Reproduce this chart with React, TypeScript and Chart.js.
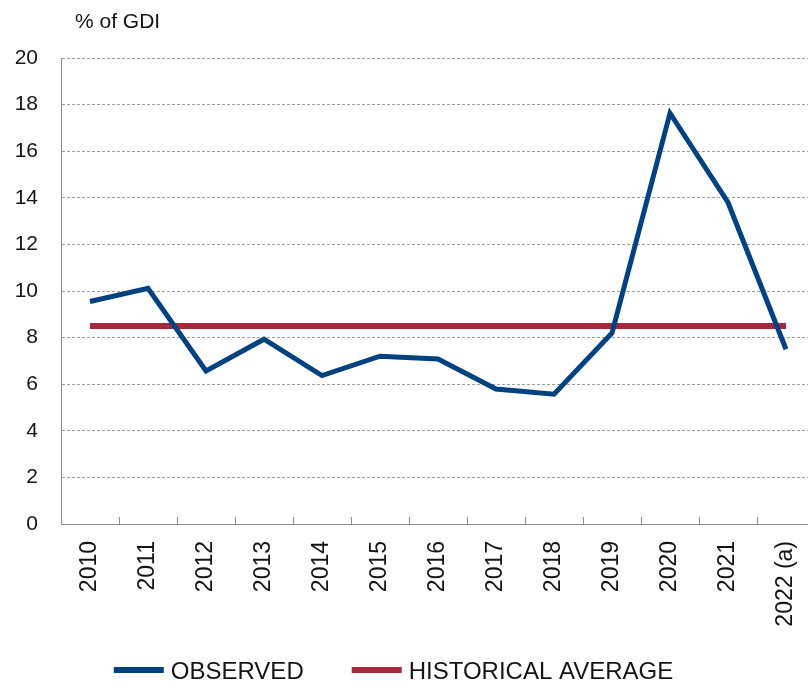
import React, { useEffect, useRef } from 'react';
import { Chart, registerables } from 'chart.js';

Chart.register(...registerables);

// ---- data ----
const years = ['2010', '2011', '2012', '2013', '2014', '2015', '2016', '2017', '2018', '2019', '2020', '2021', '2022 (a)'];
const observed = [9.55, 10.12, 6.57, 7.93, 6.37, 7.2, 7.08, 5.79, 5.57, 8.2, 17.63, 13.8, 7.5];
const historicalAverage = [8.5, 8.5, 8.5, 8.5, 8.5, 8.5, 8.5, 8.5, 8.5, 8.5, 8.5, 8.5, 8.5];
const seriesNames = ['OBSERVED', 'HISTORICAL AVERAGE'];
const yMin = 0;
const yMax = 20;
const yStep = 2;
const unitLabel = '% of GDI';

// ---- styling ----
const BLUE = '#00417F';
const RED = '#A5293A';
const AXIS = '#8c8c8c';
const GRID = '#9e9e9e';
const TEXT = '#141414';
const FONT = '"Liberation Sans", Arial, Helvetica, sans-serif';
const CANVAS_W = 815;
const CANVAS_H = 683;

// Short tick marks at category boundaries, pointing up into the plot
const xTickMarks = {
  id: 'xTickMarks',
  afterDatasetsDraw(chart: any) {
    const { ctx, chartArea } = chart;
    const x = chart.scales.x;
    const n = chart.data.labels.length;
    ctx.save();
    ctx.strokeStyle = AXIS;
    ctx.lineWidth = 1;
    ctx.beginPath();
    for (let i = 1; i < n; i++) {
      const px = Math.round(x.getPixelForValue(i - 0.5)) + 0.5;
      ctx.moveTo(px, chartArea.bottom);
      ctx.lineTo(px, chartArea.bottom - 7);
    }
    ctx.stroke();
    ctx.restore();
  },
};

// Unit caption above the value axis
const unitCaption = {
  id: 'unitCaption',
  afterDraw(chart: any) {
    const { ctx, chartArea } = chart;
    ctx.save();
    ctx.fillStyle = TEXT;
    ctx.font = `21px ${FONT}`;
    ctx.textBaseline = 'alphabetic';
    ctx.textAlign = 'left';
    ctx.fillText(unitLabel, chartArea.left + 14, 28);
    ctx.restore();
  },
};

// Legend row along the bottom edge: line sample followed by the series name
const bottomLegend = {
  id: 'bottomLegend',
  afterDraw(chart: any) {
    const { ctx } = chart;
    ctx.save();
    ctx.font = `24px ${FONT}`;
    const sample = 50;
    const gap = 7;
    const spacing = 48;
    const items = chart.data.datasets.map((ds: any) => ({
      text: ds.label as string,
      color: ds.borderColor as string,
      w: ctx.measureText(ds.label).width,
    }));
    const total =
      items.reduce((s: number, it: any) => s + sample + gap + it.w, 0) + spacing * (items.length - 1);
    let x = chart.width / 2 - 14 - total / 2;
    const yMid = chart.height - 13;
    const baseline = chart.height - 4;
    for (const it of items) {
      ctx.fillStyle = it.color;
      ctx.fillRect(x, yMid - 3, sample, 6);
      x += sample + gap;
      ctx.fillStyle = TEXT;
      ctx.textBaseline = 'alphabetic';
      ctx.textAlign = 'left';
      ctx.fillText(it.text, x, baseline);
      x += it.w + spacing;
    }
    ctx.restore();
  },
};

export default function App() {
  const canvasRef = useRef<HTMLCanvasElement | null>(null);

  useEffect(() => {
    if (!canvasRef.current) return;
    const chart = new Chart(canvasRef.current, {
      type: 'line',
      data: {
        labels: years,
        datasets: [
          {
            label: seriesNames[0],
            data: observed,
            borderColor: BLUE,
            backgroundColor: BLUE,
            borderWidth: 5,
            pointRadius: 0,
            tension: 0,
            borderJoinStyle: 'miter',
            borderCapStyle: 'butt',
          },
          {
            label: seriesNames[1],
            data: historicalAverage,
            borderColor: RED,
            backgroundColor: RED,
            borderWidth: 6,
            pointRadius: 0,
            tension: 0,
            borderCapStyle: 'butt',
          },
        ],
      },
      options: {
        animation: false,
        responsive: false,
        maintainAspectRatio: false,
        devicePixelRatio: 1,
        layout: { padding: { top: 58, right: 0, bottom: 0, left: 0 } },
        plugins: {
          legend: { display: false },
          tooltip: { enabled: false },
          title: { display: false },
        },
        scales: {
          x: {
            type: 'category',
            offset: true,
            grid: { display: false, drawTicks: false },
            border: { display: true, color: AXIS, width: 1 },
            ticks: {
              autoSkip: false,
              maxRotation: 90,
              minRotation: 90,
              padding: 17,
              color: TEXT,
              font: { family: FONT, size: 23 },
            },
            afterFit(scale: any) {
              scale.height = 159;
              scale.paddingLeft = 0;
              scale.paddingRight = 0;
            },
          },
          y: {
            min: yMin,
            max: yMax,
            grid: { color: GRID, lineWidth: 1, drawTicks: false },
            border: { display: true, color: AXIS, width: 1, dash: [3, 2] },
            ticks: {
              stepSize: yStep,
              padding: 23,
              color: TEXT,
              font: { family: FONT, size: 21 },
            },
            afterFit(scale: any) {
              scale.width = 61;
            },
          },
        },
      },
      plugins: [xTickMarks, unitCaption, bottomLegend],
    });
    return () => chart.destroy();
  }, []);

  return (
    <div style={{ position: 'fixed', left: 0, top: 0, right: 0, bottom: 0, overflow: 'hidden', background: '#fff' }}>
      <canvas
        ref={canvasRef}
        width={CANVAS_W}
        height={CANVAS_H}
        style={{ position: 'absolute', left: 0, top: 0, width: CANVAS_W, height: CANVAS_H }}
      />
    </div>
  );
}
